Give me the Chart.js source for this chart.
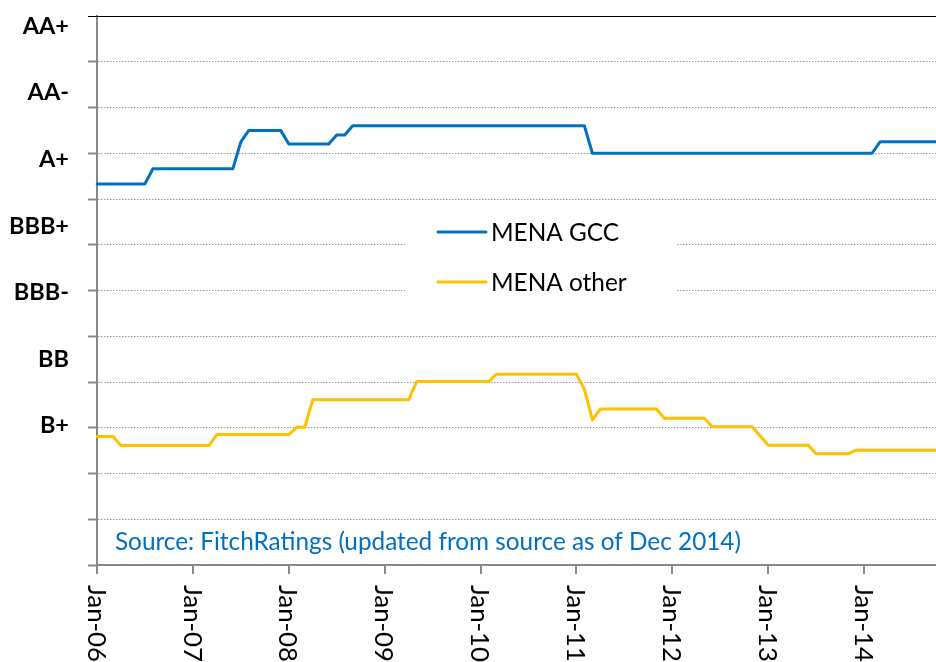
<!DOCTYPE html>
<html>
<head>
<meta charset="utf-8">
<script src="https://cdn.jsdelivr.net/npm/chart.js@4.4.1/dist/chart.umd.min.js"></script>
<style>
html,body{margin:0;padding:0;background:#fff;overflow:hidden;}
canvas{display:block;}
</style>
</head>
<body>
<canvas id="c" width="936" height="662"></canvas>
<script>
// ---------- DATA ----------
const monthNames = ['Jan','Feb','Mar','Apr','May','Jun','Jul','Aug','Sep','Oct','Nov','Dec'];
const yearSuffixes = ['06','07','08','09','10','11','12','13','14'];
const monthCount = 106; // Jan-06 .. Oct-14
const categories = [];
yearSuffixes.forEach(yy => monthNames.forEach(m => { if (categories.length < monthCount) categories.push(m + '-' + yy); }));

const xTickLabels = ['Jan-06','Jan-07','Jan-08','Jan-09','Jan-10','Jan-11','Jan-12','Jan-13','Jan-14'];

const seriesNames = ['MENA GCC', 'MENA other'];

const gccValues = [
  8.33,8.33,8.33,8.33,8.33,8.33,8.33,8.66,8.66,8.66,8.66,8.66,            // 2006
  8.66,8.66,8.66,8.66,8.66,8.66,9.25,9.50,9.50,9.50,9.50,9.50,            // 2007
  9.20,9.20,9.20,9.20,9.20,9.20,9.40,9.40,9.60,9.60,9.60,9.60,            // 2008
  9.60,9.60,9.60,9.60,9.60,9.60,9.60,9.60,9.60,9.60,9.60,9.60,            // 2009
  9.60,9.60,9.60,9.60,9.60,9.60,9.60,9.60,9.60,9.60,9.60,9.60,            // 2010
  9.60,9.60,9.00,9.00,9.00,9.00,9.00,9.00,9.00,9.00,9.00,9.00,            // 2011
  9.00,9.00,9.00,9.00,9.00,9.00,9.00,9.00,9.00,9.00,9.00,9.00,            // 2012
  9.00,9.00,9.00,9.00,9.00,9.00,9.00,9.00,9.00,9.00,9.00,9.00,            // 2013
  9.00,9.00,9.25,9.25,9.25,9.25,9.25,9.25,9.25,9.25                       // 2014
];

const otherValues = [
  2.81,2.81,2.81,2.61,2.61,2.61,2.61,2.61,2.61,2.61,2.61,2.61,            // 2006
  2.61,2.61,2.61,2.85,2.85,2.85,2.85,2.85,2.85,2.85,2.85,2.85,            // 2007
  2.85,3.01,3.01,3.61,3.61,3.61,3.61,3.61,3.61,3.61,3.61,3.61,            // 2008
  3.61,3.61,3.61,3.61,4.01,4.01,4.01,4.01,4.01,4.01,4.01,4.01,            // 2009
  4.01,4.01,4.17,4.17,4.17,4.17,4.17,4.17,4.17,4.17,4.17,4.17,            // 2010
  4.17,3.84,3.17,3.41,3.41,3.41,3.41,3.41,3.41,3.41,3.41,3.21,            // 2011
  3.21,3.21,3.21,3.21,3.21,3.02,3.02,3.02,3.02,3.02,3.02,2.82,            // 2012
  2.62,2.62,2.62,2.62,2.62,2.62,2.43,2.43,2.43,2.43,2.43,2.51,            // 2013
  2.51,2.51,2.51,2.51,2.51,2.51,2.51,2.51,2.51,2.51                       // 2014
];

// rating labels and where they sit on the numeric scale (0..12)
const ratingLabels = ['B+','BB','BBB-','BBB+','A+','AA-','AA+'];
const ratingTickValues = [3.04, 4.50, 5.95, 7.41, 8.87, 10.32, 11.78];
const yMin = 0, yMax = 12;

const sourceText = 'Source: FitchRatings (updated from source as of Dec 2014)';

// ---------- STYLE ----------
const FONT = 'Lato, "Open Sans", sans-serif';
const colors = ['#0070C0', '#FFC000'];

function fitFont(ctx, text, targetWidth, weight) {
  let size = 20;
  ctx.font = weight + ' ' + size + 'px ' + FONT;
  const w = ctx.measureText(text).width;
  size = size * targetWidth / w;
  return weight + ' ' + size.toFixed(2) + 'px ' + FONT;
}

const zeroPad = s => { s.paddingTop = 0; s.paddingBottom = 0; s.paddingLeft = 0; s.paddingRight = 0; };

const overlay = {
  id: 'overlay',
  afterDraw(chart) {
    const {ctx, chartArea: ca, scales: {x, y}} = chart;
    ctx.save();
    // solid black top line
    const yt = Math.round(y.getPixelForValue(yMax)) + 0.5;
    ctx.strokeStyle = '#000';
    ctx.lineWidth = 1;
    ctx.beginPath();
    ctx.moveTo(ca.left - 9, yt);
    ctx.lineTo(ca.right, yt);
    ctx.stroke();

    // x tick labels (rotated clockwise)
    ctx.fillStyle = '#000';
    ctx.font = fitFont(ctx, 'Jan-06', 77, 'normal');
    ctx.textAlign = 'left';
    ctx.textBaseline = 'middle';
    categories.forEach((lab, i) => {
      if (!xTickLabels.includes(lab)) return;
      const px = x.getPixelForValue(i);
      ctx.save();
      ctx.translate(px - 1, ca.bottom + 20);
      ctx.rotate(Math.PI / 2);
      ctx.fillText(lab, 0, 0);
      ctx.restore();
    });

    // legend box
    ctx.fillStyle = '#fff';
    ctx.fillRect(405, 206, 272, 100);
    const legendFont = fitFont(ctx, 'MENA GCC', 128, 'normal');
    chart.data.datasets.forEach((ds, i) => {
      const ly = 232 + i * 50;
      ctx.strokeStyle = ds.borderColor;
      ctx.lineWidth = 3;
      ctx.lineCap = 'round';
      ctx.beginPath();
      ctx.moveTo(438, ly);
      ctx.lineTo(486, ly);
      ctx.stroke();
      ctx.fillStyle = '#000';
      ctx.font = legendFont;
      ctx.textAlign = 'left';
      ctx.textBaseline = 'middle';
      ctx.fillText(ds.label, 491, ly + 1);
    });

    // source note
    ctx.fillStyle = '#0070C0';
    ctx.font = fitFont(ctx, sourceText, 626, 'normal');
    ctx.textAlign = 'left';
    ctx.textBaseline = 'alphabetic';
    ctx.fillText(sourceText, 115, 550);
    ctx.restore();
  }
};

new Chart(document.getElementById('c'), {
  type: 'line',
  data: {
    labels: categories,
    datasets: [
      { label: seriesNames[0], data: gccValues, borderColor: colors[0], backgroundColor: colors[0],
        borderWidth: 3, pointRadius: 0, tension: 0, borderJoinStyle: 'round', borderCapStyle: 'round', yAxisID: 'y' },
      { label: seriesNames[1], data: otherValues, borderColor: colors[1], backgroundColor: colors[1],
        borderWidth: 3, pointRadius: 0, tension: 0, borderJoinStyle: 'round', borderCapStyle: 'round', yAxisID: 'y' }
    ]
  },
  options: {
    responsive: false,
    devicePixelRatio: 1,
    animation: false,
    layout: { padding: { top: 16, right: 0, bottom: 0, left: 0 } },
    plugins: { legend: { display: false }, tooltip: { enabled: false } },
    scales: {
      x: {
        type: 'category',
        offset: false,
        afterFit: s => { s.height = 97; zeroPad(s); },
        grid: {
          drawOnChartArea: false,
          drawTicks: true,
          tickLength: 9,
          color: ctx => (xTickLabels.includes(categories[ctx.index]) ? '#888' : 'rgba(0,0,0,0)'),
          lineWidth: 2
        },
        border: { display: true, color: '#888', width: 2 },
        ticks: { display: false, autoSkip: false }
      },
      y: {
        type: 'linear',
        position: 'left',
        weight: 0,
        min: yMin, max: yMax,
        afterFit: s => { s.width = 8; zeroPad(s); },
        ticks: { display: false, stepSize: 1 },
        grid: {
          drawTicks: true,
          tickLength: 9,
          color: ctx => (ctx.tick && (ctx.tick.value === yMax || ctx.tick.value === yMin) ? 'rgba(0,0,0,0)' : '#999'),
          tickColor: ctx => (ctx.tick && ctx.tick.value === yMax ? '#000' : '#888'),
          tickWidth: ctx => (ctx.tick && ctx.tick.value === yMax ? 1 : 2),
          lineWidth: 1
        },
        border: { display: true, color: '#888', width: 2, dash: [1.5, 1.5] }
      },
      yl: {
        type: 'linear',
        position: 'left',
        weight: 1,
        min: yMin, max: yMax,
        afterBuildTicks: s => { s.ticks = ratingTickValues.map(v => ({ value: v })); },
        afterFit: s => { s.width = 89; zeroPad(s); },
        grid: { display: false, drawTicks: false },
        border: { display: false },
        ticks: {
          padding: 20,
          color: '#000',
          font: { family: FONT, size: 23.5, weight: 'bold' },
          callback: (v, i) => ratingLabels[i]
        }
      }
    }
  },
  plugins: [overlay]
});
</script>
</body>
</html>
